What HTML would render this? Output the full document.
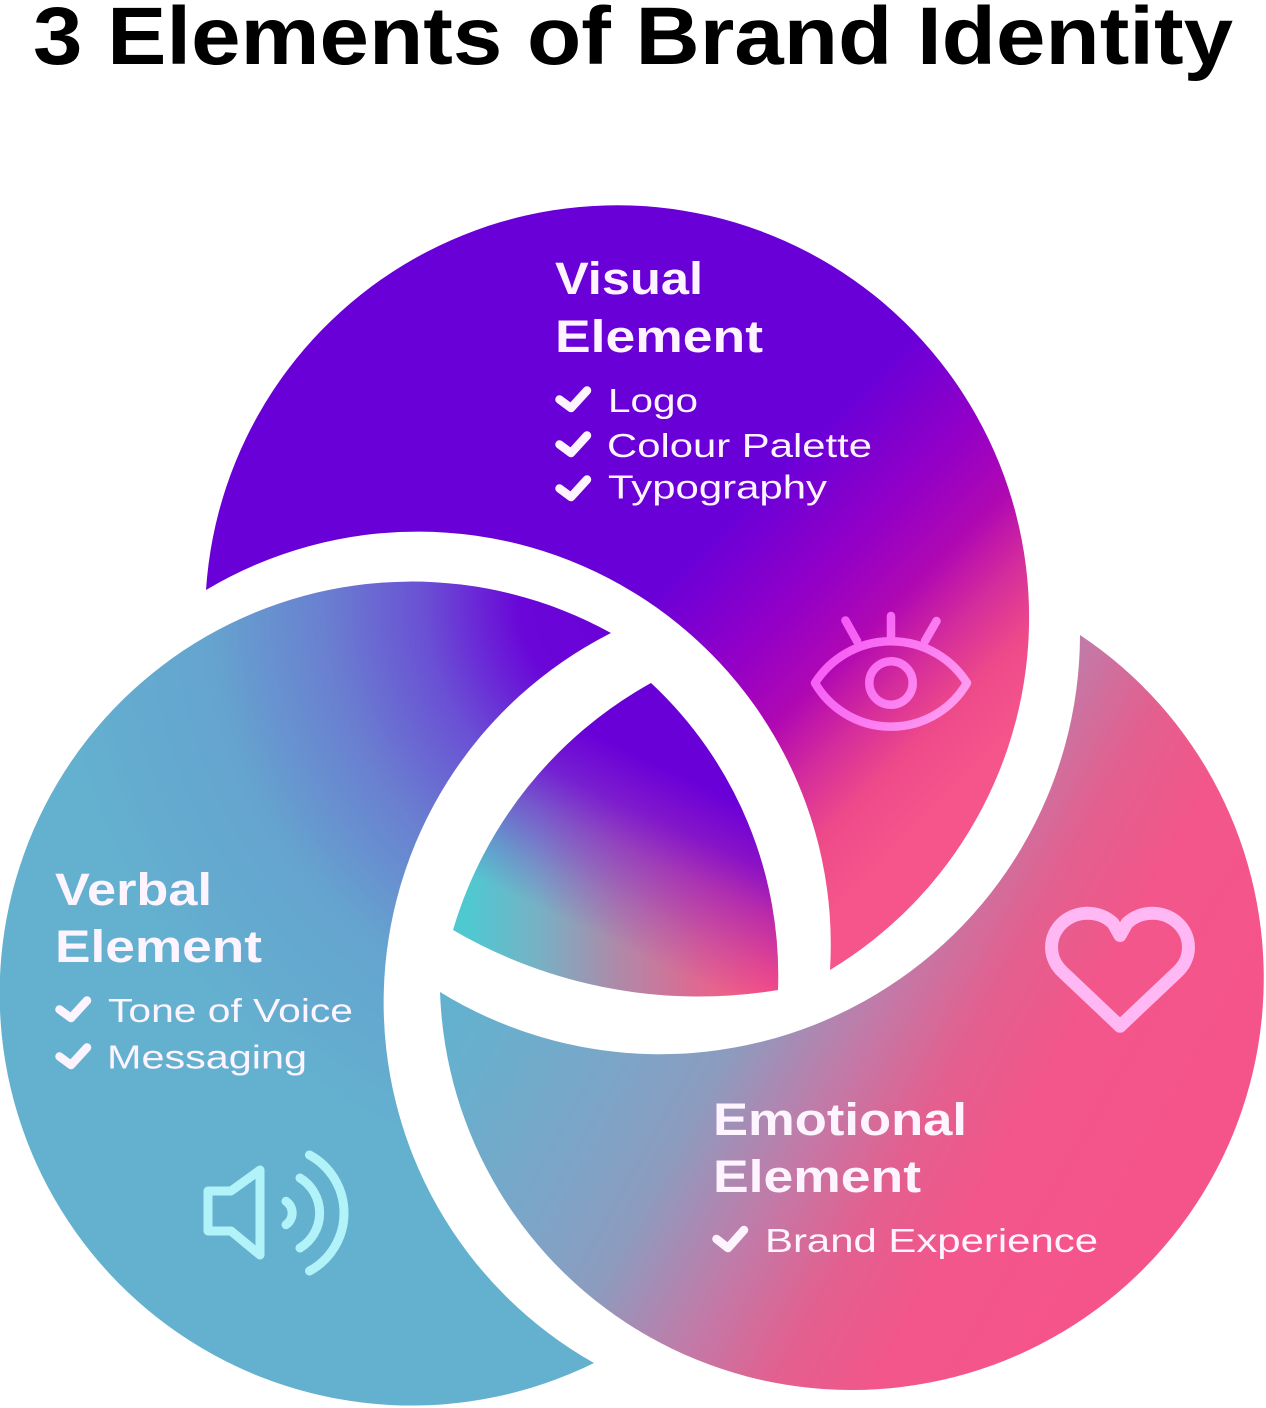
<!DOCTYPE html>
<html><head><meta charset="utf-8"><style>
html,body{margin:0;padding:0;background:#fff;}
body{width:1266px;height:1408px;position:relative;overflow:hidden;}
svg{position:absolute;left:0;top:0;}
#c{position:absolute;left:0;top:0;width:1266px;height:1408px;
background:
 linear-gradient(205deg, rgba(106,0,216,1) 0px, rgba(106,0,216,1) 950px, rgba(112,0,214,0.8) 1000px, rgba(120,0,210,0.5) 1040px, rgba(120,0,210,0.2) 1090px, rgba(120,0,210,0) 1130px),
 linear-gradient(to right, #50c8d0 470px, #78b0c4 540px, #b088a8 620px, #e06890 700px, #ff5580 770px);
clip-path:path('M 651 683 A 400 400 0 0 1 778 990 A 487 487 0 0 1 453 930 A 418 418 0 0 1 651 683 Z');}
</style></head><body>
<svg width="1266" height="1408" viewBox="0 0 1266 1408" xmlns="http://www.w3.org/2000/svg">
<defs>
<linearGradient id="gV" gradientUnits="userSpaceOnUse" x1="625" y1="625" x2="875" y2="875">
<stop offset="0" stop-color="#6a00d8"/><stop offset="0.3" stop-color="#9400c6"/><stop offset="0.5" stop-color="#b008b2"/><stop offset="0.66" stop-color="#d42c9c"/><stop offset="0.82" stop-color="#ee4a8a"/><stop offset="1" stop-color="#f5558a"/>
</linearGradient>
<radialGradient id="gL" gradientUnits="userSpaceOnUse" cx="640" cy="600" r="600">
<stop offset="0" stop-color="#6a00d8"/><stop offset="0.2" stop-color="#6a06d8"/><stop offset="0.36" stop-color="#6a50d4"/><stop offset="0.52" stop-color="#6a7ed0"/><stop offset="0.72" stop-color="#65a4cf"/><stop offset="1" stop-color="#63b1cf"/>
</radialGradient>
<linearGradient id="gE" gradientUnits="userSpaceOnUse" x1="785" y1="439" x2="1395" y2="781">
<stop offset="0" stop-color="#64b1cf"/><stop offset="0.214" stop-color="#7aa6c8"/><stop offset="0.357" stop-color="#8c9cbf"/><stop offset="0.514" stop-color="#c27aa8"/><stop offset="0.643" stop-color="#e2608f"/><stop offset="0.771" stop-color="#f2568a"/><stop offset="1" stop-color="#f5548a"/>
</linearGradient>
<linearGradient id="gEye" gradientUnits="userSpaceOnUse" x1="812" y1="620" x2="970" y2="735">
<stop offset="0" stop-color="#f250f6"/><stop offset="0.5" stop-color="#fb78f2"/><stop offset="1" stop-color="#ffaaf0"/>
</linearGradient>
</defs>

<!-- Title -->
<text x="33" y="64" font-family="'Liberation Sans', sans-serif" font-size="82" font-weight="700" fill="#000" textLength="1200" lengthAdjust="spacingAndGlyphs">3 Elements of Brand Identity</text>

<!-- Pieces -->
<path d="M 206 590 A 412 412 0 1 1 830 970 A 413 413 0 0 0 206 590 Z" fill="url(#gV)"/>
<path d="M 611 633 A 412 412 0 1 0 594 1363 A 414 414 0 0 1 611 633 Z" fill="url(#gL)"/>
<path d="M 1080 635 A 412 412 0 1 1 440 992 A 420 420 0 0 0 1080 635 Z" fill="url(#gE)"/>

<!-- Text -->
<g font-family="'Liberation Sans', sans-serif" fill="#fdf4ff">
<text x="555" y="294" font-size="45" font-weight="700" textLength="148" lengthAdjust="spacingAndGlyphs">Visual</text>
<text x="555" y="352" font-size="45" font-weight="700" textLength="208" lengthAdjust="spacingAndGlyphs">Element</text>
<text x="608" y="412" font-size="33" textLength="90" lengthAdjust="spacingAndGlyphs">Logo</text>
<text x="607" y="457" font-size="33" textLength="265" lengthAdjust="spacingAndGlyphs">Colour Palette</text>
<text x="608" y="498.5" font-size="33" textLength="219" lengthAdjust="spacingAndGlyphs">Typography</text>

<text x="55" y="905" font-size="45" font-weight="700" textLength="157" lengthAdjust="spacingAndGlyphs">Verbal</text>
<text x="55" y="962" font-size="45" font-weight="700" textLength="207" lengthAdjust="spacingAndGlyphs">Element</text>
<text x="108" y="1022" font-size="33" textLength="245" lengthAdjust="spacingAndGlyphs">Tone of Voice</text>
<text x="107" y="1068.5" font-size="33" textLength="200" lengthAdjust="spacingAndGlyphs">Messaging</text>

<text x="713" y="1135" font-size="45" font-weight="700" textLength="254" lengthAdjust="spacingAndGlyphs">Emotional</text>
<text x="713" y="1192" font-size="45" font-weight="700" textLength="208" lengthAdjust="spacingAndGlyphs">Element</text>
<text x="765" y="1252" font-size="33" textLength="333" lengthAdjust="spacingAndGlyphs">Brand Experience</text>
</g>

<!-- Check marks -->
<g fill="none" stroke="#fdf4ff" stroke-width="8.5" stroke-linecap="round" stroke-linejoin="round">
<polyline points="559.5,399.5 571,408 587,390.5"/>
<polyline points="559.5,444.5 571,453 587,435.5"/>
<polyline points="559.5,488.5 571,497 587,479.5"/>
<polyline points="59.5,1009.5 71,1018 87,1000.5"/>
<polyline points="59.5,1056.5 71,1065 87,1047.5"/>
<polyline points="716.5,1239 728,1248 744,1230"/>
</g>

<!-- Eye icon -->
<g fill="none" stroke="url(#gEye)" stroke-width="8.5" stroke-linecap="round" stroke-linejoin="round">
<path d="M 815 683 A 90 90 0 0 1 967 683 A 88 88 0 0 1 815 683 Z"/>
<circle cx="891" cy="683" r="21.7"/>
<line x1="845.5" y1="620.5" x2="857" y2="641"/>
<line x1="891" y1="616" x2="891" y2="639"/>
<line x1="936.5" y1="621" x2="925" y2="641"/>
</g>

<!-- Speaker icon -->
<g fill="none" stroke="#b2f3fa" stroke-width="9" stroke-linecap="round" stroke-linejoin="round">
<path d="M 208 1191 L 231 1191 L 260 1170 L 260 1255 L 231 1231 L 208 1231 Z"/>
<path d="M 286 1201.3 A 14.2 14.2 0 0 1 286 1224.7"/>
<path d="M 300 1178 A 41 41 0 0 1 300 1248"/>
<path d="M 309.5 1155 A 66 66 0 0 1 309.5 1271"/>
</g>

<!-- Heart icon -->
<path transform="translate(1041.4 894.6) scale(6.55 6.2)" fill="none" stroke="#ffb8f3" stroke-width="13" vector-effect="non-scaling-stroke" stroke-linecap="round" stroke-linejoin="round"
d="M20.84 4.61 A5.5 5.5 0 0 0 13.06 4.61 L12 6.6 L10.94 4.61 A5.5 5.5 0 0 0 3.16 12.39 L4.22 13.45 L12 21.23 L19.78 13.45 L20.84 12.39 A5.5 5.5 0 0 0 20.84 4.61 Z"/>
</svg>
<div id="c"></div>
</body></html>
